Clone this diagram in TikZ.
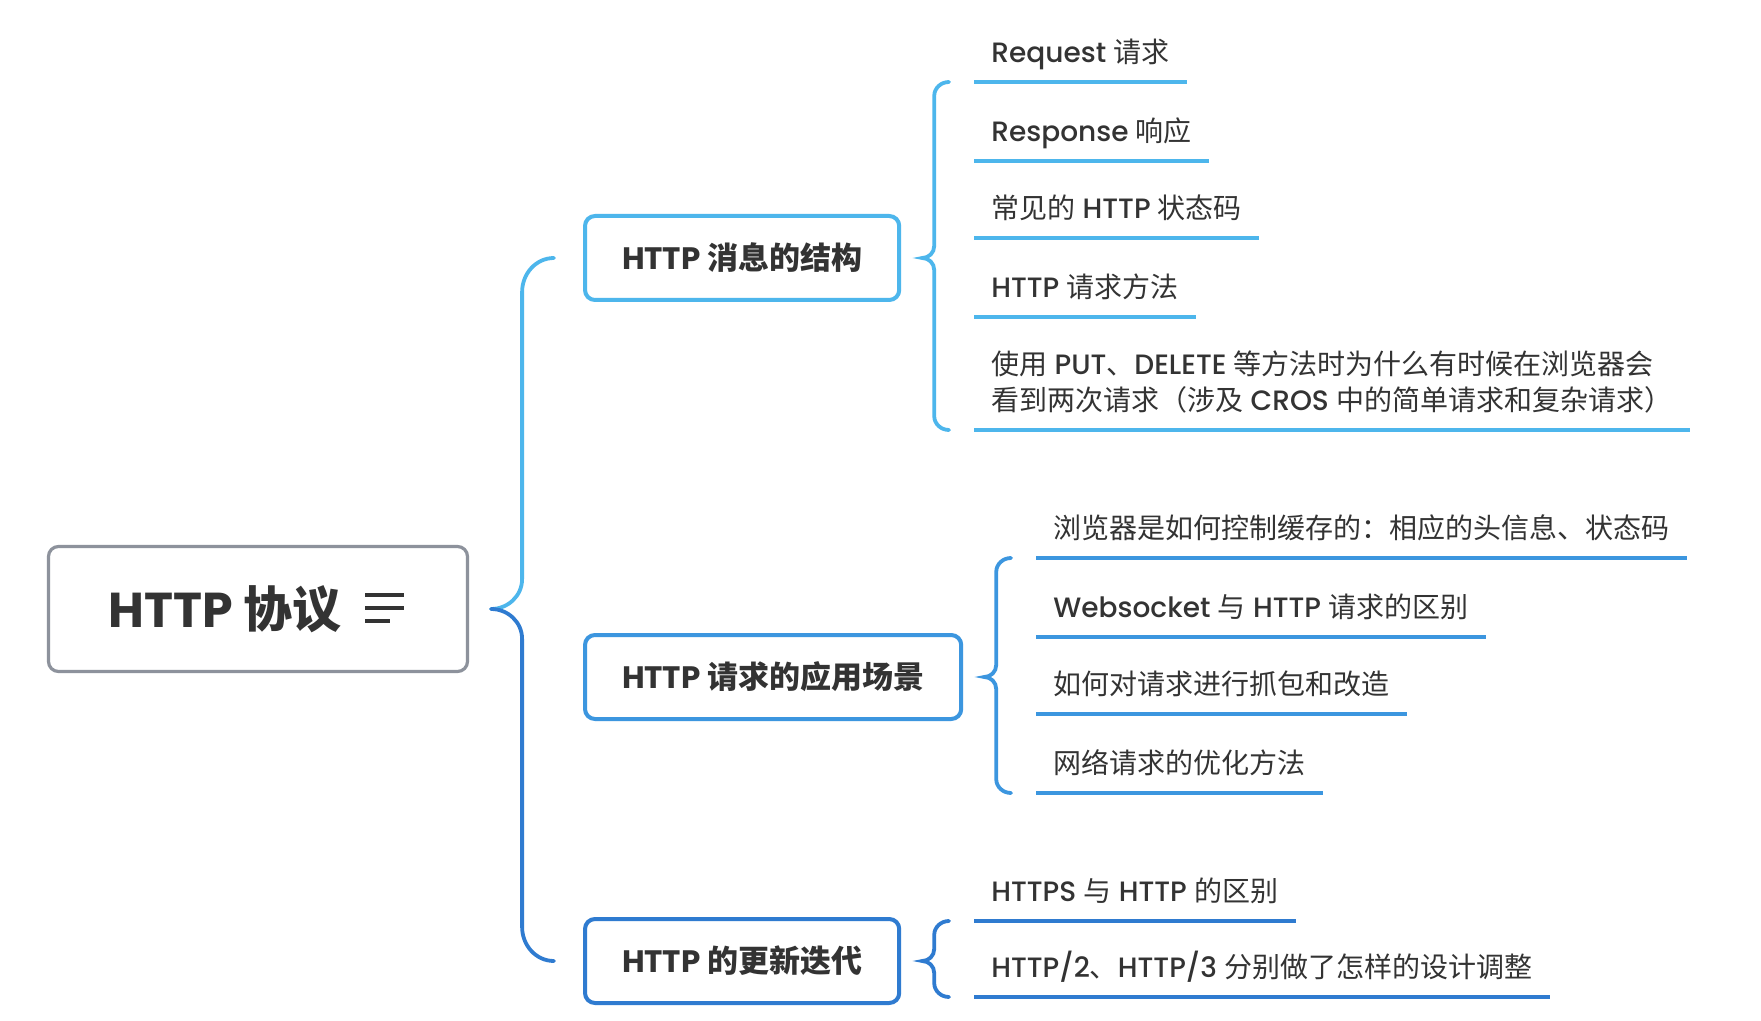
\documentclass[tikz,border=0pt]{standalone}
\usepackage{fontspec}
\setmainfont{Poppins}[UprightFont={* Medium}, BoldFont={* Bold}]
\newfontfamily\cjk{Noto Sans CJK SC}
\usepackage{xcolor}
\usepackage{tikz}
\usetikzlibrary{calc}

\definecolor{skyline}{HTML}{4DB6EC}
\definecolor{midline}{HTML}{3C96DF}
\definecolor{deepline}{HTML}{2F7BD0}
\definecolor{rootgray}{HTML}{8D929C}
\definecolor{inkgray}{HTML}{333333}

\begin{document}
\begin{tikzpicture}[
    x=0.5pt, y=-0.5pt,
    root/.style={draw=rootgray, line width=1.6pt, rounded corners=5pt, fill=white, minimum width=209.5pt, minimum height=62.5pt, font=\fontsize{24.5}{28}\selectfont\bfseries, text=inkgray},
    topic/.style={draw=#1, line width=2pt, rounded corners=5pt, fill=white, anchor=west, minimum height=42pt, inner xsep=18.5pt, font=\fontsize{15.5}{18}\selectfont\bfseries, text=inkgray},
    leaf/.style={anchor=south west, inner xsep=8.5pt, inner ysep=0pt, text depth=9.7pt, align=left, font=\fontsize{14}{18}\selectfont, text=inkgray},
    uline/.style={draw=#1, line width=2.2pt},
    wire/.style={draw=#1, line width=1.9pt, line cap=round}
]
\fill[white] (0,0) rectangle (1761,1021);
\useasboundingbox (0,0) rectangle (1761,1021);

% Root and topics
\node[root] (root) at (258,609) {HTTP {\cjk 协议}\hspace*{33pt}};
\node[topic=skyline] (msg) at (583,258) {HTTP {\cjk 消息的结构}};
\node[topic=midline] (app) at (583,677) {HTTP {\cjk 请求的应用场景}};
\node[topic=deepline] (ver) at (583,961) {HTTP {\cjk 的更新迭代}};
\foreach \dy/\len in {-14/39, -1/39, 12/25}
    \draw[line width=1.8pt, draw=inkgray] ($(root.center)+(107,\dy)$) -- ++(\len,0);

% Message structure
\node[leaf] (req) at (974,82) {Request {\cjk 请求}};
\node[leaf] (resp) at (974,161) {Response {\cjk 响应}};
\node[leaf] (code) at (974,238) {{\cjk 常见的} HTTP {\cjk 状态码}};
\node[leaf] (meth) at (974,317) {HTTP {\cjk 请求方法}};
\node[leaf] (twice) at (974,430) {{\cjk 使用} PUT{\cjk 、}DELETE {\cjk 等方法时为什么有时候在浏览器会}\\{\cjk 看到两次请求（涉及} CROS {\cjk 中的简单请求和复杂请求）}};

% Application scenes
\node[leaf] (cache) at (1036,558) {{\cjk 浏览器是如何控制缓存的：相应的头信息、状态码}};
\node[leaf] (wsock) at (1036,637) {Websocket {\cjk 与} HTTP {\cjk 请求的区别}};
\node[leaf] (capt) at (1036,714) {{\cjk 如何对请求进行抓包和改造}};
\node[leaf] (optim) at (1036,793) {{\cjk 网络请求的优化方法}};

% Version updates
\node[leaf] (https) at (974,921) {HTTPS {\cjk 与} HTTP {\cjk 的区别}};
\node[leaf] (h23) at (974,997) {HTTP/2{\cjk 、}HTTP/3 {\cjk 分别做了怎样的设计调整}};

\foreach \n/\c in {req/skyline, resp/skyline, code/skyline, meth/skyline, twice/skyline,
    cache/midline, wsock/midline, capt/midline, optim/midline, https/deepline, h23/deepline}
    \draw[uline=\c] (\n.south west) -- (\n.south east);

% Braces
\draw[wire=skyline] let \p1=($(root.east)+(22,0)$), \p2=($(msg.west)+(-29,0)$) in
    (\p1) to[out=0,in=-90] (\x1+15.5pt,\y1+15pt) -- (\x1+15.5pt,\y2-17pt) to[out=90,in=180] (\p2);
\draw[wire=deepline] let \p1=($(root.east)+(22,0)$), \p3=($(ver.west)+(-29,0)$) in
    (\p1) to[out=0,in=90] (\x1+15.5pt,\y1-15pt) -- (\x1+15.5pt,\y3+17pt) to[out=-90,in=180] (\p3);
\foreach \t/\a/\b/\c in {msg/req/twice/skyline, app/cache/optim/midline, ver/https/h23/deepline}
    \draw[wire=\c] let \p1=($(\t.east)+(21,0)$), \p2=($(\a.south west)+(-25,0)$), \p3=($(\b.south west)+(-25,0)$) in
        (\p2) to[out=180,in=90] (\x1+6pt,\y2-7pt) -- (\x1+6pt,\y1+6pt) to[out=-90,in=0] (\p1)
        to[out=0,in=90] (\x1+6pt,\y1-6pt) -- (\x1+6pt,\y3+7pt) to[out=-90,in=180] (\p3);
\end{tikzpicture}
\end{document}
